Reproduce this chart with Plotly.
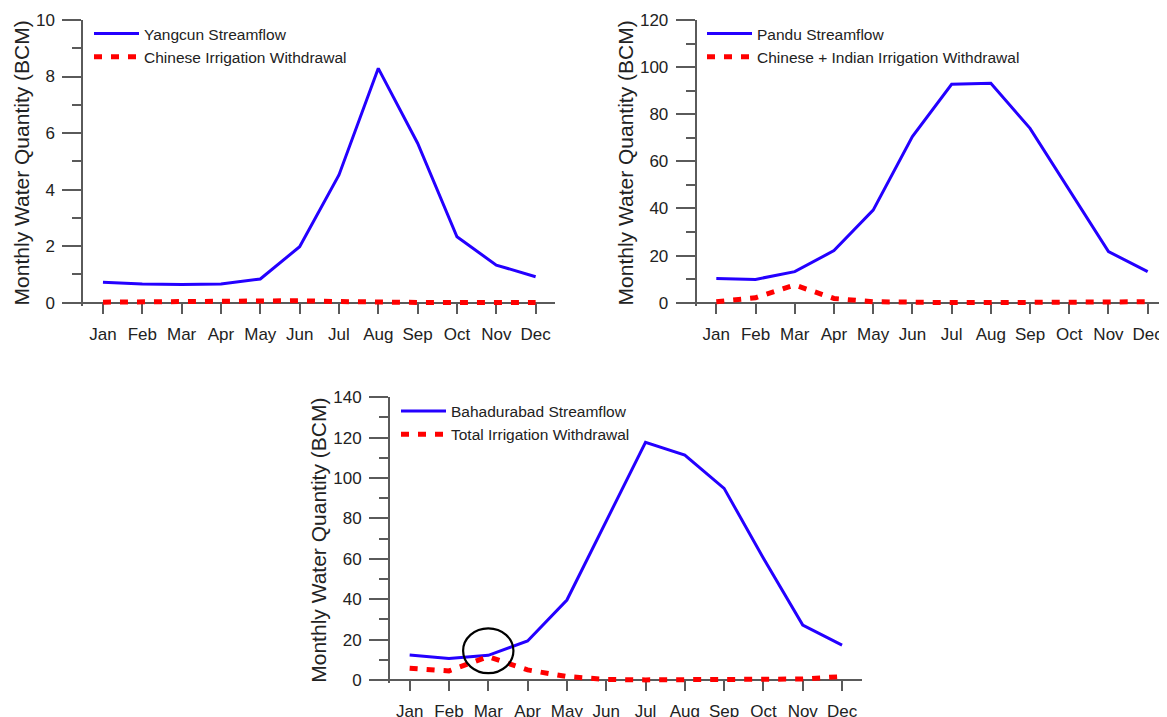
import plotly.graph_objects as go

months = ["Jan", "Feb", "Mar", "Apr", "May", "Jun", "Jul", "Aug", "Sep", "Oct", "Nov", "Dec"]

yangcun_streamflow = [0.72, 0.66, 0.64, 0.66, 0.84, 1.98, 4.52, 8.29, 5.64, 2.33, 1.33, 0.92]
chinese_withdrawal = [0.02, 0.03, 0.04, 0.06, 0.05, 0.07, 0.04, 0.01, 0.01, 0.01, 0.01, 0.01]

pandu_streamflow = [10.3, 9.9, 13.2, 22.1, 39.3, 70.5, 92.7, 93.1, 74.0, 47.8, 21.7, 13.2]
chinese_indian_withdrawal = [0.4, 2.1, 7.5, 1.8, 0.4, 0.1, 0.05, 0.05, 0.05, 0.05, 0.3, 0.4]

bahadurabad_streamflow = [12.4, 10.7, 12.2, 19.3, 39.6, 78.5, 117.7, 111.4, 94.9, 60.3, 27.2, 17.3]
total_withdrawal = [5.8, 4.5, 11.6, 5.0, 1.7, 0.3, 0.05, 0.1, 0.05, 0.05, 0.5, 1.7]

# highlight circle around March (center / radius in data units)
circle_month = "Mar"
circle_center_y = 14.5
circle_rx = 0.64
circle_ry = 11.1

BLUE = "#2400FF"
RED = "#FF0000"
AXC = "#5a5a5a"
TXT = "#222222"
FONT = "Liberation Sans, Arial, sans-serif"
x_idx = list(range(len(months)))

fig = go.Figure()

panels = [
    ("", "Yangcun Streamflow", yangcun_streamflow, "Chinese Irrigation Withdrawal", chinese_withdrawal, "legend"),
    ("2", "Pandu Streamflow", pandu_streamflow, "Chinese + Indian Irrigation Withdrawal", chinese_indian_withdrawal, "legend2"),
    ("3", "Bahadurabad Streamflow", bahadurabad_streamflow, "Total Irrigation Withdrawal", total_withdrawal, "legend3"),
]

for suf, sname, sval, wname, wval, leg in panels:
    fig.add_trace(go.Scatter(x=x_idx, y=sval, mode="lines", name=sname,
                             line=dict(color=BLUE, width=3), xaxis="x" + suf, yaxis="y" + suf,
                             legend=leg))
    fig.add_trace(go.Scatter(x=x_idx, y=wval, mode="lines", name=wname,
                             line=dict(color=RED, width=5, dash="8px,9px"), xaxis="x" + suf,
                             yaxis="y" + suf, legend=leg))

H = 717.0
W = 1167.0
OFF = 8.0  # page body offset


def px(sx):
    return (sx - OFF) / W


def py(sy):
    return 1 - (sy - OFF) / H


def xa(dom, pos):
    return dict(domain=dom, range=[-0.5, 11.5], anchor="free", position=pos,
                tickmode="array", tickvals=x_idx, ticktext=months, ticks="outside", ticklen=10,
                tickwidth=1.5, tickcolor=AXC, showline=True, linecolor=AXC, linewidth=2,
                showgrid=False, zeroline=False, layer="below traces",
                tickfont=dict(family=FONT, size=17, color=TXT), ticklabelstandoff=6)


def ya(dom, rng, dtick, mdtick, xname):
    return dict(domain=dom, range=rng, anchor=xname, dtick=dtick, tick0=0, ticks="outside", ticklen=19,
                tickwidth=1.5, tickcolor=AXC, showline=True, linecolor=AXC, linewidth=2,
                showgrid=False, zeroline=False, layer="below traces",
                minor=dict(dtick=mdtick, tick0=0, ticks="outside", ticklen=9, tickwidth=1.5, tickcolor=AXC,
                           showgrid=False),
                tickfont=dict(family=FONT, size=17, color=TXT), ticklabelstandoff=4,
                title=dict(text="Monthly Water Quantity (BCM)", font=dict(family=FONT, size=21, color=TXT),
                           standoff=1))


fig.update_layout(
    width=1167, height=717, margin=dict(l=0, r=0, t=0, b=0, autoexpand=False),
    paper_bgcolor="white", plot_bgcolor="white",
    font=dict(family=FONT, color=TXT),
    xaxis=xa([px(83.3), px(555.3)], py(302.7)),
    yaxis=ya([py(305.7), py(20)], [-0.106, 10], 2, 1, "x"),
    xaxis2=xa([px(696.7), px(1167.3)], py(302.7)),
    yaxis2=ya([py(305.7), py(20)], [-1.27, 120], 20, 10, "x2"),
    xaxis3=xa([px(390), px(861.7)], py(680)),
    yaxis3=ya([py(683), py(397.3)], [-1.486, 140], 20, 10, "x3"),
)

leg_common = dict(font=dict(family=FONT, size=15.5, color=TXT), bgcolor="rgba(0,0,0,0)",
                  borderwidth=0, xanchor="left", yanchor="top", itemwidth=45, tracegroupgap=0)
fig.update_layout(
    legend=dict(x=px(89), y=py(17), **leg_common),
    legend2=dict(x=px(702), y=py(17), **leg_common),
    legend3=dict(x=px(396), y=py(394.5), **leg_common),
    showlegend=True,
)

cx = months.index(circle_month)
fig.add_shape(type="circle", xref="x3", yref="y3",
              x0=cx - circle_rx, x1=cx + circle_rx,
              y0=circle_center_y - circle_ry, y1=circle_center_y + circle_ry,
              line=dict(color="black", width=2.2))

fig.write_html("out.html")
